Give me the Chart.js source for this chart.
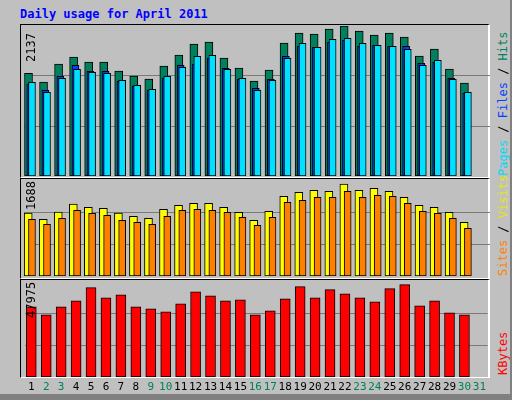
<!DOCTYPE html>
<html><head><meta charset="utf-8">
<script src="https://cdn.jsdelivr.net/npm/chart.js@4/dist/chart.umd.min.js"></script>
<style>
html,body{margin:0;padding:0;background:#c0c0c0;}
#wrap{position:relative;width:510px;height:398px;background:#c0c0c0;border-right:2px solid #808080;border-bottom:2px solid #808080;overflow:hidden;font-family:"DejaVu Sans Mono",monospace;}
#bot{position:absolute;left:0;top:394px;width:512px;height:4px;background:#808080;}
.frame{position:absolute;left:20px;width:470px;border:1px solid #000;border-right:2px solid #fff;border-bottom:1px solid #fff;box-sizing:border-box;}
.cv{position:absolute;}
.title{position:absolute;left:20px;top:7px;color:#0000ff;font-weight:bold;font-size:12px;}
.lv{position:absolute;font-size:12px;color:#000;transform-origin:0 0;transform:rotate(-90deg);white-space:nowrap;}
.rl{position:absolute;font-size:12px;transform-origin:0 0;transform:rotate(-90deg);white-space:nowrap;}
</style></head><body>
<div id="wrap">
<div class="title">Daily usage for April 2011</div>
<div class="frame" style="top:24px;height:154px;"></div>
<div class="frame" style="top:178px;height:101px;"></div>
<div class="frame" style="top:279px;height:99px;"></div>
<div class="cv" style="left:24px;top:26px;width:466px;height:150px;"><canvas id="c1"></canvas></div>
<div class="cv" style="left:24px;top:180px;width:466px;height:96px;"><canvas id="c2"></canvas></div>
<div class="cv" style="left:24px;top:281px;width:466px;height:115px;"><canvas id="c3"></canvas></div>
<div class="lv" style="left:24px;top:62px;">2137</div>
<div class="lv" style="left:24px;top:210px;">1688</div>
<div class="lv" style="left:24px;top:318px;">47975</div>
<div class="rl" style="left:496px;top:176px;"><span style="color:#00d8f8">Pages</span><span style="color:#000"> / </span><span style="color:#0040ff">Files</span><span style="color:#000"> / </span><span style="color:#00805c">Hits</span></div>
<div class="rl" style="left:496px;top:276px;"><span style="color:#ff8000">Sites</span><span style="color:#000"> / </span><span style="color:#e8e800">Visits</span></div>
<div class="rl" style="left:496px;top:375px;"><span style="color:#ff0000">KBytes</span></div>
<div id="bot"></div>
</div>
<script>
const days=[1,2,3,4,5,6,7,8,9,10,11,12,13,14,15,16,17,18,19,20,21,22,23,24,25,26,27,28,29,30,31];
const dayLabels=["1","2","3","4","5","6","7","8","9","10","11","12","13","14","15","16","17","18","19","20","21","22","23","24","25","26","27","28","29","30","31"];
const weekend=[2,3,9,10,16,17,23,24,30,31];
const hits=[1463,1339,1596,1695,1624,1624,1496,1425,1382,1567,1724,1881,1909,1681,1539,1353,1510,1895,2037,2023,2094,2137,2066,2009,2037,1980,1710,1809,1524,1325,0];
const files=[1311,1221,1420,1577,1492,1492,1349,1278,1221,1392,1577,1591,1677,1534,1378,1249,1378,1705,1848,1834,1905,1933,1848,1862,1848,1848,1606,1620,1392,1178,0];
const pages=[1335,1193,1392,1520,1478,1463,1364,1292,1235,1420,1549,1705,1720,1520,1392,1221,1364,1677,1891,1834,1948,1962,1891,1862,1848,1805,1577,1648,1378,1193,0];
const visits=[1108,997,1125,1266,1207,1190,1108,1050,1014,1172,1243,1278,1278,1207,1120,979,1137,1401,1471,1507,1489,1617,1507,1542,1489,1384,1243,1207,1120,944,0];
const sites=[997,909,1014,1155,1102,1067,979,944,909,1050,1155,1173,1155,1120,1032,891,1032,1296,1331,1384,1384,1489,1384,1419,1401,1278,1137,1102,1014,839,0];
const kbytes=[35050,31010,35050,38080,44640,39590,41110,35050,34040,32520,36560,42620,40600,38080,38580,31010,33030,39090,45150,39590,43630,41610,39590,37570,44140,46160,35550,38080,32020,31010,0];
const maxTop=2137, maxMid=1688, maxBot=47975;

const pts=a=>days.map((d,i)=>({x:d,y:a[i]}));
function xAxis(shift,show){
  return {type:'linear',display:show,min:0.5-shift,max:31.5-shift,offset:false,
    grid:{display:false,drawTicks:false},border:{display:false},
    afterBuildTicks:s=>{s.ticks=days.map(d=>({value:d}));},
    afterFit:s=>{if(show)s.height=19;},
    ticks:show?{autoSkip:false,maxRotation:0,padding:4,font:{family:'DejaVu Sans Mono',size:11},
      callback:(v,i)=>dayLabels[i],
      color:c=>weekend.includes(days[c.index])?'#00805c':'#000'}:{}};
}
function yAxis(max){
  return {min:0,max:max,display:true,position:'left',
    afterBuildTicks:s=>{s.ticks=[{value:max/3},{value:2*max/3}];},
    afterFit:s=>{s.width=0;},
    ticks:{display:false},grid:{color:'#7a7a7a',lineWidth:1,drawTicks:false},border:{display:false}};
}
function mk(id,sets,scales){
  new Chart(document.getElementById(id),{type:'bar',data:{datasets:sets},
    options:{responsive:true,maintainAspectRatio:false,animation:false,
      layout:{padding:0},plugins:{legend:{display:false},tooltip:{enabled:false}},scales}});
}
const ds=(data,x,color,w,order)=>({data:pts(data),xAxisID:x,backgroundColor:color,borderColor:'#000',borderWidth:1,barThickness:w,order,grouped:false,borderSkipped:false});

mk('c1',[ds(hits,'xh','#00805c',8,3),ds(files,'xf','#0040ff',7,2),ds(pages,'xp','#00e0ff',7,1)],
  {xh:xAxis(-0.2,false),xf:xAxis(-0.08,false),xp:xAxis(0.03,false),y:yAxis(maxTop)});
mk('c2',[ds(visits,'xv','#ffff00',8,2),ds(sites,'xs','#ff8000',7,1)],
  {xv:xAxis(-0.22,false),xs:xAxis(0.03,false),y:yAxis(maxMid)});
mk('c3',[ds(kbytes,'xk','#ff0000',10,1)],
  {xk:xAxis(-0.05,true),y:yAxis(maxBot)});
</script>
</body></html>
